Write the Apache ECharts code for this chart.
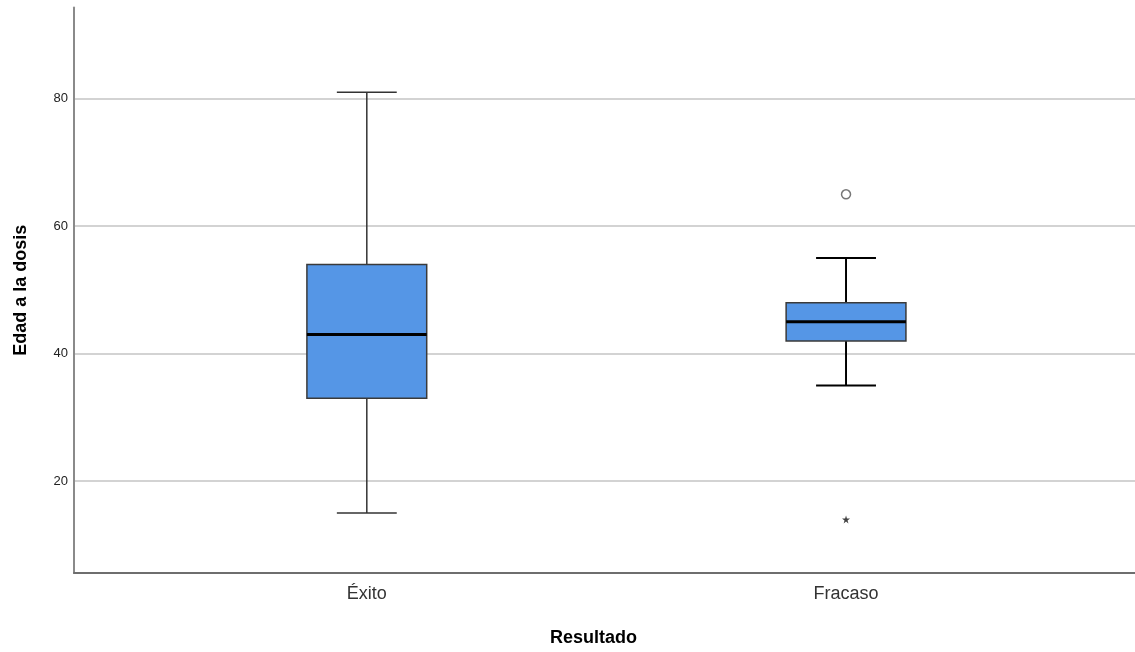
<!DOCTYPE html>
<html>
<head>
<meta charset="utf-8">
<script src="https://cdn.jsdelivr.net/npm/echarts@6/dist/echarts.min.js"></script>
<style>
  html, body { margin: 0; padding: 0; background: #fff; }
  #chart { width: 1135px; height: 652px; }
</style>
</head>
<body>
<div id="chart"></div>
<script>
// categorías y estadísticos de cada caja
const categories = ["Éxito", "Fracaso"];
const whiskerLow = [15, 35];
const q1 = [33, 42];
const median = [43, 45];
const q3 = [54, 48];
const whiskerHigh = [81, 55];
// atípicos (círculo) y extremos (asterisco)
const outliers = [[1, 65]];
const extremes = [[1, 14]];
const yTicks = [20, 40, 60, 80];

const boxData = categories.map((c, i) => [i, whiskerLow[i], q1[i], median[i], q3[i], whiskerHigh[i]]);

// estilo de bigotes por caja (el de Fracaso es más grueso)
const whiskerLook = [
  { stroke: "#333", lineWidth: 1.5 },
  { stroke: "#000", lineWidth: 2 },
];

const chart = echarts.init(document.getElementById("chart"));

function renderBox(params, api) {
  const x = api.value(0);
  const w = api.size([0.25, 0])[0];
  const cx = api.coord([x, 0])[0];
  const yLo = api.coord([x, api.value(1)])[1];
  const yQ1 = api.coord([x, api.value(2)])[1];
  const yMed = api.coord([x, api.value(3)])[1];
  const yQ3 = api.coord([x, api.value(4)])[1];
  const yHi = api.coord([x, api.value(5)])[1];
  const wl = whiskerLook[params.dataIndex];
  const cap = w / 4;
  return {
    type: "group",
    children: [
      { type: "line", shape: { x1: cx, y1: yHi, x2: cx, y2: yQ3 }, style: wl },
      { type: "line", shape: { x1: cx, y1: yQ1, x2: cx, y2: yLo }, style: wl },
      { type: "line", shape: { x1: cx - cap, y1: yHi, x2: cx + cap, y2: yHi }, style: wl },
      { type: "line", shape: { x1: cx - cap, y1: yLo, x2: cx + cap, y2: yLo }, style: wl },
      {
        type: "rect",
        shape: { x: cx - w / 2, y: yQ3, width: w, height: yQ1 - yQ3 },
        style: { fill: "#5596e6", stroke: "#3a3a3a", lineWidth: 1.5 },
      },
      {
        type: "line",
        shape: { x1: cx - w / 2, y1: yMed, x2: cx + w / 2, y2: yMed },
        style: { stroke: "#000", lineWidth: 3 },
      },
    ],
  };
}

const option = {
  backgroundColor: "#fff",
  animation: false,
  grid: { left: 74, right: 0, top: 7.5, bottom: 76.5, containLabel: false },
  xAxis: {
    type: "value",
    min: -0.611,
    max: 1.603,
    name: "Resultado",
    nameLocation: "middle",
    nameGap: 56,
    nameTextStyle: {
      fontFamily: "Liberation Sans",
      fontSize: 18,
      fontWeight: "bold",
      color: "#000",
      padding: [0, 22, 0, 0],
    },
    axisLine: { show: true, onZero: false, lineStyle: { color: "#6e6e6e", width: 2 } },
    axisTick: { show: false },
    splitLine: { show: false },
    axisLabel: {
      customValues: [0, 1],
      formatter: (v) => categories[Math.round(v)],
      fontFamily: "Liberation Sans",
      fontSize: 18,
      color: "#333",
      margin: 12,
    },
  },
  yAxis: {
    type: "value",
    min: 5.6,
    max: 94.3,
    name: "Edad a la dosis",
    nameLocation: "middle",
    nameGap: 44,
    nameTextStyle: {
      fontFamily: "Liberation Sans",
      fontSize: 18,
      fontWeight: "bold",
      color: "#000",
    },
    axisLine: { show: true, onZero: false, lineStyle: { color: "#8a8a8a", width: 2 } },
    axisTick: { show: false, customValues: yTicks },
    axisLabel: {
      customValues: yTicks,
      fontFamily: "Liberation Sans",
      fontSize: 13,
      color: "#222",
      margin: 6,
    },
    splitLine: { show: true, lineStyle: { color: "#c4c4c4", width: 1.5 } },
  },
  series: [
    {
      type: "custom",
      renderItem: renderBox,
      data: boxData,
      encode: { x: 0, y: [1, 2, 3, 4, 5] },
      z: 3,
    },
    {
      type: "scatter",
      data: outliers,
      symbol: "circle",
      symbolSize: 9,
      itemStyle: { color: "#fff", borderColor: "#555", borderWidth: 1.5 },
      z: 4,
    },
    {
      type: "scatter",
      data: extremes,
      symbol: "path://M50,0 L61,35 L98,35 L68,57 L79,91 L50,70 L21,91 L32,57 L2,35 L39,35 Z",
      symbolSize: 8,
      itemStyle: { color: "#111" },
      z: 4,
    },
  ],
};

chart.setOption(option);
</script>
</body>
</html>
